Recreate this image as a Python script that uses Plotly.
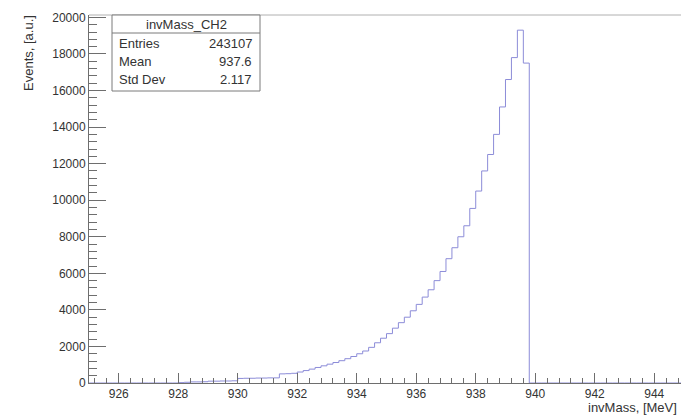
import numpy as np
import plotly.graph_objects as go

# Histogram definition (ROOT TH1: 100 bins from 925 to 945 MeV)
hist_name = "invMass_CH2"
x_low, x_high, n_bins = 925.0, 945.0, 100
counts = [
    0, 0, 0, 0, 0, 0, 0, 0, 0, 0, 0, 0, 0, 0, 0,          # 925.0 - 928.0
    20, 40,                                              # 928.0 - 928.4
    60, 60, 70,                                          # 928.4 - 929.0
    100, 100, 110, 110, 120,                             # 929.0 - 930.0
    250, 260, 260, 270, 270, 280, 280,                   # 930.0 - 931.4
    500, 510, 530,                                       # 931.4 - 932.0
    600, 680, 760, 850, 940, 1030, 1120, 1220, 1330, 1450,
    1600, 1750, 1950, 2200, 2450, 2700, 3000, 3300, 3600, 3950,
    4300, 4700, 5100, 5600, 6100, 6800, 7400, 8000, 8600, 9550,
    10500, 11600, 12500, 13600, 15100, 16600, 17800, 19300, 17500,
    0, 0, 0, 0, 0, 0, 0, 0, 0, 0, 0, 0, 0, 0, 0, 0, 0, 0, 0, 0, 0, 0, 0, 0, 0, 0,
]
stats_labels = ["Entries", "Mean", "Std Dev"]
stats_values = ["243107", "937.6", "2.117"]
x_title = "invMass, [MeV]"
y_title = "Events, [a.u.]"

edges = np.linspace(x_low, x_high, n_bins + 1)
ys = list(counts) + [counts[-1]]

W, H = 681, 416
ML, MR, MT, MB = 89, 0, 15, 33
PW, PH = W - ML - MR, H - MT - MB

def px(xp):
    return (xp - ML) / PW

def py(yp):
    return (H - MB - yp) / PH

FONT = "Liberation Sans, Arial, Helvetica, sans-serif"
TXT = "#333333"
AX = "#6e6e6e"

fig = go.Figure()
fig.add_trace(go.Scatter(
    x=edges, y=ys, mode="lines", line_shape="hv",
    line=dict(color="#8c8cd8", width=1), hoverinfo="skip", showlegend=False,
))

fig.update_layout(
    width=W, height=H,
    margin=dict(l=ML, r=MR, t=MT, b=MB),
    paper_bgcolor="white", plot_bgcolor="white",
    font=dict(family=FONT, size=12, color=TXT),
    showlegend=False,
    xaxis=dict(
        range=[925.0, 944.9], showgrid=False, zeroline=False,
        showline=True, linecolor=AX, linewidth=1, mirror=False,
        ticks="inside", ticklen=10, tickcolor=AX, tickwidth=1,
        tick0=926, dtick=2, tickformat="d", tickfont=dict(size=12, color=TXT),
        minor=dict(ticks="inside", ticklen=5, tickcolor=AX, dtick=0.4, tick0=926, showgrid=False),
    ),
    yaxis=dict(
        range=[0, 20130], showgrid=False, zeroline=False,
        showline=True, linecolor=AX, linewidth=1,
        ticks="inside", ticklen=17, tickcolor=AX, tickwidth=1,
        tick0=0, dtick=2000, tickformat="d", tickfont=dict(size=12, color=TXT),
        minor=dict(ticks="inside", ticklen=8, tickcolor=AX, dtick=400, tick0=0, showgrid=False),
    ),
)

# top frame line
fig.add_shape(type="line", xref="paper", yref="paper", x0=0, x1=1, y0=1, y1=1,
              line=dict(color="#b0b0b0", width=1))

# stats box
bx0, bx1, by0, by1, bsep = 112, 260, 15, 91, 33
fig.add_shape(type="rect", xref="paper", yref="paper",
              x0=px(bx0), x1=px(bx1), y0=py(by1), y1=py(by0),
              line=dict(color="#7a7a7a", width=1), fillcolor="white", layer="above")
fig.add_shape(type="line", xref="paper", yref="paper",
              x0=px(bx0), x1=px(bx1), y0=py(bsep), y1=py(bsep),
              line=dict(color="#7a7a7a", width=1), layer="above")
fig.add_annotation(xref="paper", yref="paper", x=px((bx0 + bx1) / 2), y=py((by0 + bsep) / 2),
                   text=hist_name, showarrow=False, xanchor="center", yanchor="middle",
                   font=dict(size=13, color=TXT, family=FONT))
row_y = [44, 62, 80]
for lab, val, ry in zip(stats_labels, stats_values, row_y):
    fig.add_annotation(xref="paper", yref="paper", x=px(bx0 + 5), y=py(ry), text=lab,
                       showarrow=False, xanchor="left", yanchor="middle",
                       font=dict(size=13, color=TXT, family=FONT))
    fig.add_annotation(xref="paper", yref="paper", x=px(bx1 - 6), y=py(ry), text=val,
                       showarrow=False, xanchor="right", yanchor="middle",
                       font=dict(size=13, color=TXT, family=FONT))

# axis titles (ROOT style: aligned to axis ends)
fig.add_annotation(xref="paper", yref="paper", x=1, y=py(407), xshift=-2, text=x_title,
                   showarrow=False, xanchor="right", yanchor="middle",
                   font=dict(size=13, color=TXT, family=FONT))
fig.add_annotation(xref="paper", yref="paper", x=px(28), y=1, yshift=2, text=y_title,
                   showarrow=False, xanchor="center", yanchor="top", textangle=-90,
                   font=dict(size=13, color=TXT, family=FONT))

fig.write_html("out.html")
